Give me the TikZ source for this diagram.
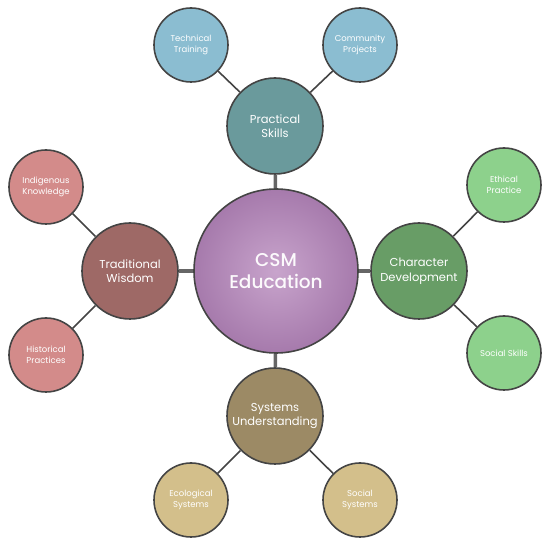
\documentclass[tikz,border=0pt]{standalone}
\usepackage{fontspec}
\setmainfont{Poppins}
\newfontfamily\hubfont{Poppins Medium}
\definecolor{edgegray}{HTML}{444444}
\definecolor{spokegray}{HTML}{666666}
\definecolor{hubin}{HTML}{C8A4CC}
\definecolor{hubout}{HTML}{A67AAC}
\definecolor{skillteal}{HTML}{6A9A9C}
\definecolor{skilllight}{HTML}{8BBDD1}
\definecolor{wisdomred}{HTML}{9E6966}
\definecolor{wisdomlight}{HTML}{D38B8A}
\definecolor{chargreen}{HTML}{689D66}
\definecolor{charlight}{HTML}{8DD18C}
\definecolor{sysbrown}{HTML}{9C8A65}
\definecolor{syslight}{HTML}{D3BF8B}

\begin{document}
\begin{tikzpicture}[x=1pt,y=-1pt,%
        hub/.style={circle, draw=edgegray, line width=1.6pt, minimum size=164pt,%
                        inner sep=0pt, align=center, text=white!94!hubin,%
                        font=\hubfont\fontsize{18.5}{22}\selectfont},
        topic/.style={circle, draw=edgegray, line width=1.6pt, minimum size=96pt,%
                        inner sep=0pt, align=center, text=white,%
                        font=\fontsize{11.5}{14.5}\selectfont},
        leaf/.style={circle, draw=edgegray, line width=1.6pt, minimum size=74pt,%
                        inner sep=0pt, align=center, text=white,%
                        font=\fontsize{8.5}{11}\selectfont},
        spoke/.style={spokegray, line width=3.5pt},
        twig/.style={edgegray, line width=1.6pt}]
    \useasboundingbox (0,0) rectangle (550,540);
    % hub and topics
    \node[hub, shade, inner color=hubin, outer color=hubout] (csm) at (276,271) {CSM\\Education};
    \node[topic, fill=skillteal] (skills) at (275,126) {Practical\\Skills};
    \node[topic, fill=wisdomred] (wisdom) at (130,271) {Traditional\\Wisdom};
    \node[topic, fill=chargreen] (character) at (419,271) {Character\\Development};
    \node[topic, fill=sysbrown] (systems) at (275,416) {Systems\\Understanding};
    % leaves
    \node[leaf, fill=skilllight] (training) at (191,45) {Technical\\Training};
    \node[leaf, fill=skilllight] (projects) at (360,45) {Community\\Projects};
    \node[leaf, fill=wisdomlight] (indigenous) at (46,187) {Indigenous\\Knowledge};
    \node[leaf, fill=wisdomlight] (historical) at (46,355) {Historical\\Practices};
    \node[leaf, fill=charlight] (ethical) at (504,185) {Ethical\\Practice};
    \node[leaf, fill=charlight] (socskills) at (504,353) {Social Skills};
    \node[leaf, fill=syslight] (ecological) at (191,500) {Ecological\\Systems};
    \node[leaf, fill=syslight] (socsystems) at (360,500) {Social\\Systems};
    % connectors
    \foreach \t in {skills,wisdom,character,systems}
        \draw[spoke] (csm) -- (\t);
    \foreach \t/\l in {skills/training,skills/projects,wisdom/indigenous,%
                       wisdom/historical,character/ethical,character/socskills,%
                       systems/ecological,systems/socsystems}
        \draw[twig] (\t) -- (\l);
\end{tikzpicture}
\end{document}
